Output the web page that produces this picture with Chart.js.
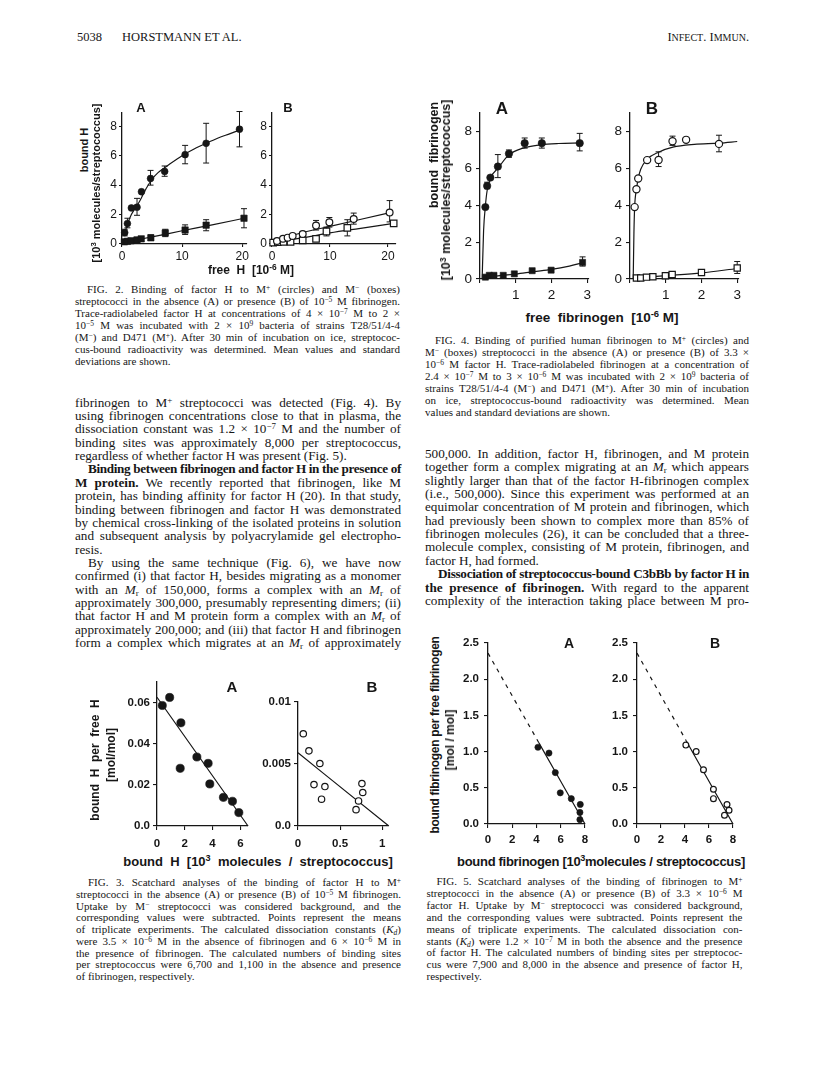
<!DOCTYPE html>
<html>
<head>
<meta charset="utf-8">
<script src="https://cdn.jsdelivr.net/npm/chart.js@4.4.0/dist/chart.umd.min.js"></script>
<style>
body{margin:0;background:#fff;width:816px;height:1078px;position:relative;overflow:hidden;font-family:"Liberation Serif","Times New Roman",serif;color:#161616}
canvas{position:absolute}
.ln{position:absolute;white-space:nowrap;height:16px;line-height:16px}
.ln sup{font-size:0.68em;vertical-align:0.45em;line-height:0}
.ln sub{font-size:0.68em;vertical-align:-0.25em;line-height:0}
.lab{position:absolute;white-space:nowrap;transform:translate(-50%,-50%);font-family:"Liberation Sans",Arial,sans-serif;font-weight:bold;color:#161616}
.lab sup{font-size:0.7em;vertical-align:0.5em;line-height:0}
.rot{transform:translate(-50%,-50%) rotate(-90deg)}
</style>
</head>
<body>
<script>
// ---------- Fig. 2 : bound H vs free H ----------
var f2XTicks = [0, 10, 20];
var f2YTicks = [0, 2, 4, 6, 8];
var f2aCircX = [0.45, 0.9, 1.56, 2.5, 3.24, 4.75, 7.1, 10.5, 14.0, 19.55];
var f2aCircY = [0.77, 1.39, 2.45, 2.5, 3.55, 4.45, 4.93, 6.07, 6.84, 7.8];
var f2aCircLo = [0.55, 1.1, 2.45, 1.95, 3.55, 4.0, 4.6, 5.45, 5.5, 6.6];
var f2aCircHi = [1.0, 1.75, 2.45, 3.1, 3.55, 5.0, 5.3, 6.7, 8.2, 9.0];
var f2aSqX = [0.4, 0.9, 1.5, 2.5, 3.2, 4.8, 7.2, 10.5, 14.0, 20.3];
var f2aSqY = [0.15, 0.18, 0.22, 0.28, 0.35, 0.42, 0.75, 0.95, 1.28, 1.75];
var f2aSqLo = [0.15, 0.18, 0.22, 0.28, 0.35, 0.25, 0.5, 0.65, 0.9, 1.1];
var f2aSqHi = [0.15, 0.18, 0.22, 0.28, 0.35, 0.62, 1.0, 1.3, 1.65, 2.4];
var f2aCircFitX = [0.3, 1, 1.5, 2, 2.5, 3, 4, 5, 6, 7, 8, 10, 12, 14, 16, 18, 19.8];
var f2aCircFitY = [0.55, 1.45, 1.95, 2.3, 2.6, 2.95, 3.75, 4.4, 4.85, 5.15, 5.45, 6.0, 6.45, 6.84, 7.2, 7.5, 7.78];
var f2aSqFitX = [0.3, 2, 5, 10, 15, 20.3];
var f2aSqFitY = [0.12, 0.25, 0.48, 0.9, 1.3, 1.75];
var f2bCircX = [0.86, 1.9, 2.7, 3.56, 5.3, 7.6, 9.9, 14.1, 20.3];
var f2bCircY = [0.2, 0.36, 0.43, 0.55, 0.68, 1.25, 1.48, 1.7, 2.14];
var f2bCircLo = [0.2, 0.36, 0.43, 0.55, 0.5, 0.95, 1.15, 1.35, 1.5];
var f2bCircHi = [0.2, 0.36, 0.43, 0.55, 0.85, 1.6, 1.8, 2.1, 2.95];
var f2bSqX = [0.2, 1.0, 2.0, 3.2, 5.3, 7.6, 9.4, 13.0, 21.0];
var f2bSqY = [0.1, 0.12, 0.15, 0.15, 0.25, 0.35, 0.85, 1.1, 1.4];
var f2bSqLo = [0.1, 0.12, 0.15, 0.15, 0.25, 0.35, 0.55, 0.55, 1.3];
var f2bSqHi = [0.1, 0.12, 0.15, 0.15, 0.25, 0.35, 1.15, 1.65, 1.5];
var f2bCircFitX = [0, 5, 10, 15, 20];
var f2bCircFitY = [0.25, 0.75, 1.2, 1.65, 2.1];
var f2bSqFitX = [0, 5, 10, 15, 21];
var f2bSqFitY = [0.1, 0.4, 0.75, 1.05, 1.4];

// ---------- Fig. 4 : bound fibrinogen vs free fibrinogen ----------
var f4XTicks = [0, 1, 2, 3];
var f4XLabels = ['', '1', '2', '3'];
var f4YTicks = [0, 2, 4, 6, 8];
var f4aCircX = [0.15, 0.2, 0.29, 0.5, 0.81, 1.25, 1.73, 2.79];
var f4aCircY = [3.9, 5.05, 5.5, 6.1, 6.8, 7.37, 7.37, 7.37];
var f4aCircLo = [3.9, 4.9, 5.5, 5.5, 6.6, 7.1, 7.1, 6.95];
var f4aCircHi = [3.9, 5.25, 5.5, 6.75, 7.0, 7.65, 7.65, 7.9];
var f4aSqX = [0.15, 0.26, 0.39, 0.65, 0.96, 1.46, 1.99, 2.87];
var f4aSqY = [0.1, 0.2, 0.2, 0.2, 0.28, 0.45, 0.48, 0.9];
var f4aSqLo = [0.1, 0.2, 0.2, 0.2, 0.28, 0.45, 0.48, 0.7];
var f4aSqHi = [0.1, 0.2, 0.2, 0.2, 0.28, 0.45, 0.48, 1.2];
var f4aCircFitX = [0.06, 0.1, 0.15, 0.2, 0.3, 0.5, 0.8, 1.2, 1.7, 2.2, 2.8];
var f4aCircFitY = [0, 2.6, 3.95, 4.8, 5.5, 6.0, 6.72, 7.1, 7.28, 7.35, 7.38];
var f4aSqFitX = [0.08, 0.5, 1, 1.5, 2, 2.5, 2.87];
var f4aSqFitY = [0.05, 0.17, 0.27, 0.4, 0.52, 0.7, 0.88];
var f4bCircX = [0.13, 0.18, 0.23, 0.48, 0.8, 1.19, 1.57, 2.49];
var f4bCircY = [3.9, 4.87, 5.45, 6.45, 6.46, 7.47, 7.55, 7.33];
var f4bCircLo = [3.9, 4.87, 5.45, 6.45, 6.1, 7.25, 7.55, 6.9];
var f4bCircHi = [3.9, 4.87, 5.45, 6.45, 6.9, 7.75, 7.55, 7.8];
var f4bSqX = [0.18, 0.3, 0.46, 0.64, 0.99, 1.18, 2.0, 3.0];
var f4bSqY = [0.05, 0.05, 0.1, 0.12, 0.18, 0.25, 0.35, 0.6];
var f4bSqLo = [0.05, 0.05, 0.1, 0.12, 0.18, 0.25, 0.35, 0.3];
var f4bSqHi = [0.05, 0.05, 0.1, 0.12, 0.18, 0.25, 0.35, 0.95];
var f4bCircFitX = [0.09, 0.11, 0.13, 0.18, 0.23, 0.3, 0.48, 0.8, 1.2, 1.8, 2.5, 3.0];
var f4bCircFitY = [0, 2.5, 3.9, 4.85, 5.45, 5.95, 6.5, 6.88, 7.15, 7.3, 7.37, 7.46];
var f4bSqFitX = [0.1, 1, 2, 3];
var f4bSqFitY = [0.05, 0.18, 0.33, 0.57];

// ---------- Fig. 3 : Scatchard, factor H ----------
var f3aXTicks = [0, 2, 4, 6];
var f3aYTicks = [0, 0.02, 0.04, 0.06];
var f3aYLabels = ['0.0', '0.02', '0.04', '0.06'];
var f3bXTicks = [0, 0.5, 1];
var f3bXLabels = ['0', '0.5', '1'];
var f3bYTicks = [0, 0.005, 0.01];
var f3bYLabels = ['0.0', '0.005', '0.01'];
var f3aX = [0.38, 0.91, 1.72, 1.67, 2.87, 3.68, 3.8, 4.78, 5.43, 5.89];
var f3aY = [0.0585, 0.0624, 0.0501, 0.028, 0.0335, 0.0304, 0.0204, 0.0139, 0.012, 0.0065];
var f3aFitX = [0, 6.55];
var f3aFitY = [0.0625, 0];
var f3bX = [0.063, 0.13, 0.26, 0.19, 0.32, 0.28, 0.76, 0.77, 0.72, 0.69];
var f3bY = [0.00744, 0.00606, 0.00504, 0.00334, 0.00318, 0.00216, 0.00342, 0.0027, 0.00202, 0.00132];
var f3bFitX = [0, 1.08];
var f3bFitY = [0.0059, 0];

// ---------- Fig. 5 : Scatchard, fibrinogen ----------
var f5XTicks = [0, 2, 4, 6, 8];
var f5YTicks = [0, 0.5, 1, 1.5, 2, 2.5];
var f5YLabels = ['0.0', '0.5', '1.0', '1.5', '2.0', '2.5'];
var f5aX = [4.12, 5.03, 5.55, 5.96, 6.87, 7.61, 7.58, 7.58];
var f5aY = [1.06, 0.98, 0.71, 0.43, 0.35, 0.27, 0.16, 0.06];
var f5aFitX = [4.2, 8.0];
var f5aFitY = [1.12, 0];
var f5aDashX = [0, 4.2];
var f5aDashY = [2.36, 1.12];
var f5bX = [4.07, 4.93, 5.54, 6.37, 6.37, 7.5, 7.67, 7.29];
var f5bY = [1.09, 1.0, 0.75, 0.48, 0.35, 0.27, 0.19, 0.12];
var f5bFitX = [4.1, 8.0];
var f5bFitY = [1.15, 0];
var f5bDashX = [0, 4.1];
var f5bDashY = [2.36, 1.15];

var INK = '#161616';
var SANS = '"Liberation Sans", Arial, sans-serif';

function pts(xs, ys) { return xs.map(function (x, i) { return { x: x, y: ys[i] }; }); }

function marks(xs, ys, shape, r, filled, lo, hi) {
  return { data: pts(xs, ys), showLine: false, pointStyle: shape, pointRadius: r,
    backgroundColor: filled ? INK : '#fff', borderColor: INK, borderWidth: filled ? 0.6 : 1.2,
    errLo: lo, errHi: hi, clip: false };
}
function curve(xs, ys, dash) {
  return { data: pts(xs, ys), showLine: true, pointRadius: 0, borderColor: INK, borderWidth: 1.2,
    borderDash: dash || [], cubicInterpolationMode: 'monotone', fill: false, clip: false };
}

// error bars drawn under the markers, through the chart scales
var errorBars = {
  id: 'errorBars',
  beforeDatasetsDraw: function (chart) {
    var ctx = chart.ctx, sx = chart.scales.x, sy = chart.scales.y;
    chart.data.datasets.forEach(function (ds) {
      if (!ds.errLo) return;
      ctx.save();
      ctx.strokeStyle = INK; ctx.lineWidth = 1;
      ds.data.forEach(function (p, i) {
        var lo = ds.errLo[i], hi = ds.errHi[i];
        if (lo === hi) return;
        var px = sx.getPixelForValue(p.x), pl = sy.getPixelForValue(lo), ph = sy.getPixelForValue(hi);
        ctx.beginPath();
        ctx.moveTo(px, pl); ctx.lineTo(px, ph);
        ctx.moveTo(px - 3, pl); ctx.lineTo(px + 3, pl);
        ctx.moveTo(px - 3, ph); ctx.lineTo(px + 3, ph);
        ctx.stroke();
      });
      ctx.restore();
    });
  }
};

function axis(horiz, min, max, ticks, labels, st, size) {
  return {
    type: 'linear', position: horiz ? 'bottom' : 'left', min: min, max: max,
    afterBuildTicks: function (s) { s.ticks = ticks.map(function (v) { return { value: v }; }); },
    afterFit: function (s) { if (horiz) s.height = size; else s.width = size; },
    ticks: { autoSkip: false, maxRotation: 0, padding: st.pad, color: INK,
      font: { family: SANS, size: st.fs, weight: st.fw },
      callback: function (v) { var k = ticks.indexOf(v); return labels ? labels[k] : String(v); } },
    grid: { drawOnChartArea: false, drawTicks: true, tickLength: st.tl, color: INK, lineWidth: 1.1 },
    border: { display: true, color: INK, width: 1.3 }
  };
}

function panel(g, xa, ya, datasets) {
  var padL = g.padL, padT = 12, padR = 16, padB = g.padB;
  var cv = document.createElement('canvas');
  var w = Math.round(g.right - g.left + padL + padR);
  var h = Math.round(g.bottom - g.top + padT + padB);
  cv.width = w; cv.height = h;
  cv.style.left = Math.round(g.left - padL) + 'px';
  cv.style.top = Math.round(g.top - padT) + 'px';
  document.body.appendChild(cv);
  new Chart(cv, {
    type: 'scatter',
    data: { datasets: datasets },
    options: {
      responsive: false, animation: false, devicePixelRatio: 1,
      layout: { padding: { left: 0, top: padT, right: padR, bottom: 0 } },
      plugins: { legend: { display: false }, tooltip: { enabled: false } },
      scales: {
        x: axis(true, xa.min, xa.max, xa.ticks, xa.labels, xa.st, padB),
        y: axis(false, ya.min, ya.max, ya.ticks, ya.labels, ya.st, padL)
      }
    },
    plugins: [errorBars]
  });
}

// ---------- page text ----------
function place(html, cls, x, y, css) {
  var d = document.createElement('div');
  d.className = cls; d.innerHTML = html;
  d.style.left = x + 'px'; d.style.top = y + 'px';
  if (css) d.style.cssText += css;
  document.body.appendChild(d);
  return d;
}
function lab(html, x, y, css) { return place(html, 'lab', x, y, css); }
function rlab(html, x, y, css) { return place(html, 'lab rot', x, y, css); }

// justified column text: one div per printed line
function column(lines, x, w, y0, dy, fs) {
  lines.forEach(function (L, i) {
    var ind = L.ind || 0;
    var d = place('<span>' + L.t + '</span>', 'ln', x + ind, y0 + dy * i - 8, 'font-size:' + fs + 'px');
    var span = d.firstChild;
    var nat = span.getBoundingClientRect().width;
    var target = w - ind;
    var spaces = (span.textContent.match(/ /g) || []).length;
    if (nat > target) {
      d.style.letterSpacing = ((target - nat) / span.textContent.length) + 'px';
    } else if (!L.last && spaces) {
      d.style.wordSpacing = ((target - nat) / spaces) + 'px';
    }
  });
}

place('5038', 'ln', 77, 29, 'font-size:12.5px');
place('HORSTMANN ET AL.', 'ln', 122, 29, 'font-size:12.5px');
place('I<span style="font-size:10px">NFECT</span>. I<span style="font-size:10px">MMUN</span>.', 'ln', 0, 29, 'font-size:12.5px;left:auto;right:' + (816 - 749) + 'px');

column([
  { t: 'fibrinogen to M<sup>+</sup> streptococci was detected (Fig. 4). By' },
  { t: 'using fibrinogen concentrations close to that in plasma, the' },
  { t: 'dissociation constant was 1.2 × 10<sup>−7</sup> M and the number of' },
  { t: 'binding sites was approximately 8,000 per streptococcus,' },
  { t: 'regardless of whether factor H was present (Fig. 5).', last: true },
  { t: '<b>Binding between fibrinogen and factor H in the presence of</b>', ind: 13 },
  { t: '<b>M protein.</b> We recently reported that fibrinogen, like M' },
  { t: 'protein, has binding affinity for factor H (20). In that study,' },
  { t: 'binding between fibrinogen and factor H was demonstrated' },
  { t: 'by chemical cross-linking of the isolated proteins in solution' },
  { t: 'and subsequent analysis by polyacrylamide gel electropho-' },
  { t: 'resis.', last: true },
  { t: 'By using the same technique (Fig. 6), we have now', ind: 13 },
  { t: 'confirmed (i) that factor H, besides migrating as a monomer' },
  { t: 'with an <i>M</i><sub>r</sub> of 150,000, forms a complex with an <i>M</i><sub>r</sub> of' },
  { t: 'approximately 300,000, presumably representing dimers; (ii)' },
  { t: 'that factor H and M protein form a complex with an <i>M</i><sub>r</sub> of' },
  { t: 'approximately 200,000; and (iii) that factor H and fibrinogen' },
  { t: 'form a complex which migrates at an <i>M</i><sub>r</sub> of approximately' }
], 75, 326, 402.7, 13.35, 13.2);

column([
  { t: '500,000. In addition, factor H, fibrinogen, and M protein' },
  { t: 'together form a complex migrating at an <i>M</i><sub>r</sub> which appears' },
  { t: 'slightly larger than that of the factor H-fibrinogen complex' },
  { t: '(i.e., 500,000). Since this experiment was performed at an' },
  { t: 'equimolar concentration of M protein and fibrinogen, which' },
  { t: 'had previously been shown to complex more than 85% of' },
  { t: 'fibrinogen molecules (26), it can be concluded that a three-' },
  { t: 'molecule complex, consisting of M protein, fibrinogen, and' },
  { t: 'factor H, had formed.', last: true },
  { t: '<b>Dissociation of streptococcus-bound C3bBb by factor H in</b>', ind: 13 },
  { t: '<b>the presence of fibrinogen.</b> With regard to the apparent' },
  { t: 'complexity of the interaction taking place between M pro-' }
], 425, 324, 454, 13.35, 13.2);

column([
  { t: 'FIG. 2. Binding of factor H to M<sup>+</sup> (circles) and M<sup>−</sup> (boxes)', ind: 12 },
  { t: 'streptococci in the absence (A) or presence (B) of 10<sup>−5</sup> M fibrinogen.' },
  { t: 'Trace-radiolabeled factor H at concentrations of 4 × 10<sup>−7</sup> M to 2 ×' },
  { t: '10<sup>−5</sup> M was incubated with 2 × 10<sup>9</sup> bacteria of strains T28/51/4-4' },
  { t: '(M<sup>−</sup>) and D471 (M<sup>+</sup>). After 30 min of incubation on ice, streptococ-' },
  { t: 'cus-bound radioactivity was determined. Mean values and standard' },
  { t: 'deviations are shown.', last: true }
], 75, 325, 289.3, 11.95, 11);

column([
  { t: 'FIG. 4. Binding of purified human fibrinogen to M<sup>+</sup> (circles) and', ind: 10 },
  { t: 'M<sup>−</sup> (boxes) streptococci in the absence (A) or presence (B) of 3.3 ×' },
  { t: '10<sup>−6</sup> M factor H. Trace-radiolabeled fibrinogen at a concentration of' },
  { t: '2.4 × 10<sup>−7</sup> M to 3 × 10<sup>−6</sup> M was incubated with 2 × 10<sup>9</sup> bacteria of' },
  { t: 'strains T28/51/4-4 (M<sup>−</sup>) and D471 (M<sup>+</sup>). After 30 min of incubation' },
  { t: 'on ice, streptococcus-bound radioactivity was determined. Mean' },
  { t: 'values and standard deviations are shown.', last: true }
], 425, 324, 340, 12.05, 11);

column([
  { t: 'FIG. 3. Scatchard analyses of the binding of factor H to M<sup>+</sup>', ind: 12 },
  { t: 'streptococci in the absence (A) or presence (B) of 10<sup>−5</sup> M fibrinogen.' },
  { t: 'Uptake by M<sup>−</sup> streptococci was considered background, and the' },
  { t: 'corresponding values were subtracted. Points represent the means' },
  { t: 'of triplicate experiments. The calculated dissociation constants (<i>K<sub>d</sub></i>)' },
  { t: 'were 3.5 × 10<sup>−6</sup> M in the absence of fibrinogen and 6 × 10<sup>−6</sup> M in' },
  { t: 'the presence of fibrinogen. The calculated numbers of binding sites' },
  { t: 'per streptococcus were 6,700 and 1,100 in the absence and presence' },
  { t: 'of fibrinogen, respectively.', last: true }
], 76, 325, 882.3, 11.7, 11);

column([
  { t: 'FIG. 5. Scatchard analyses of the binding of fibrinogen to M<sup>+</sup>', ind: 10 },
  { t: 'streptococci in the absence (A) or presence (B) of 3.3 × 10<sup>−6</sup> M' },
  { t: 'factor H. Uptake by M<sup>−</sup> streptococci was considered background,' },
  { t: 'and the corresponding values were subtracted. Points represent the' },
  { t: 'means of triplicate experiments. The calculated dissociation con-' },
  { t: 'stants (<i>K<sub>d</sub></i>) were 1.2 × 10<sup>−7</sup> M in both the absence and the presence' },
  { t: 'of factor H. The calculated numbers of binding sites per streptococ-' },
  { t: 'cus were 7,900 and 8,000 in the absence and presence of factor H,' },
  { t: 'respectively.', last: true }
], 426.5, 316, 881, 11.9, 11);

// ---------- Fig. 2 ----------
var st2 = { fs: 12, fw: 'normal', pad: 2, tl: 3 };
panel({ left: 122, right: 246.8, top: 112.5, bottom: 243, padL: 32, padB: 22 },
  { min: 0, max: 20.8, ticks: f2XTicks, st: st2 }, { min: 0, max: 8.9, ticks: f2YTicks, st: st2 }, [
    marks(f2aCircX, f2aCircY, 'circle', 3.4, true, f2aCircLo, f2aCircHi),
    marks(f2aSqX, f2aSqY, 'rect', 4.5, true, f2aSqLo, f2aSqHi),
    curve(f2aCircFitX, f2aCircFitY), curve(f2aSqFitX, f2aSqFitY)]);
panel({ left: 272, right: 396.1, top: 112.5, bottom: 243, padL: 32, padB: 22 },
  { min: 0, max: 21.4, ticks: f2XTicks, st: st2 }, { min: 0, max: 8.9, ticks: f2YTicks, st: st2 }, [
    marks(f2bCircX, f2bCircY, 'circle', 3.4, false, f2bCircLo, f2bCircHi),
    marks(f2bSqX, f2bSqY, 'rect', 4.6, false, f2bSqLo, f2bSqHi),
    curve(f2bCircFitX, f2bCircFitY), curve(f2bSqFitX, f2bSqFitY)]);
lab('A', 141, 107, 'font-size:13px');
lab('B', 288, 107, 'font-size:13px');
rlab('bound H', 84, 150, 'font-size:11px');
rlab('[10<sup>3</sup> molecules/streptococcus]', 96, 183, 'font-size:11px');
lab('free&nbsp;&nbsp;H&nbsp;&nbsp;[10<sup>-6</sup> M]', 251, 270, 'font-size:12px');

// ---------- Fig. 4 ----------
var st4 = { fs: 13.5, fw: 'normal', pad: 4, tl: 4 };
panel({ left: 480.3, right: 589.2, top: 112.6, bottom: 278.3, padL: 34, padB: 26 },
  { min: 0, max: 3.05, ticks: f4XTicks, labels: f4XLabels, st: st4 }, { min: 0, max: 9.0, ticks: f4YTicks, st: st4 }, [
    marks(f4aCircX, f4aCircY, 'circle', 3.7, true, f4aCircLo, f4aCircHi),
    marks(f4aSqX, f4aSqY, 'rect', 4.3, true, f4aSqLo, f4aSqHi),
    curve(f4aCircFitX, f4aCircFitY), curve(f4aSqFitX, f4aSqFitY)]);
panel({ left: 629.9, right: 739.1, top: 112.6, bottom: 278.3, padL: 34, padB: 26 },
  { min: 0, max: 3.05, ticks: f4XTicks, labels: f4XLabels, st: st4 }, { min: 0, max: 9.0, ticks: f4YTicks, st: st4 }, [
    marks(f4bCircX, f4bCircY, 'circle', 3.6, false, f4bCircLo, f4bCircHi),
    marks(f4bSqX, f4bSqY, 'rect', 4.4, false, f4bSqLo, f4bSqHi),
    curve(f4bCircFitX, f4bCircFitY), curve(f4bSqFitX, f4bSqFitY)]);
lab('A', 502, 109, 'font-size:17px');
lab('B', 652, 109, 'font-size:17px');
rlab('bound&nbsp;&nbsp;fibrinogen', 434, 155, 'font-size:12.5px');
rlab('[10<sup>3</sup> molecules/streptococcus]', 446, 190, 'font-size:12.5px');
lab('free&nbsp;&nbsp;fibrinogen&nbsp;&nbsp;[10<sup>-6</sup> M]', 602, 317, 'font-size:13.5px');

// ---------- Fig. 3 ----------
var st3 = { fs: 11.5, fw: 'bold', pad: 7, tl: 4 };
var st3y = { fs: 11.5, fw: 'bold', pad: 3, tl: 4 };
panel({ left: 156.7, right: 247.9, top: 681.6, bottom: 825.7, padL: 40, padB: 26 },
  { min: 0, max: 6.55, ticks: f3aXTicks, st: st3 }, { min: 0, max: 0.0699, ticks: f3aYTicks, labels: f3aYLabels, st: st3y }, [
    marks(f3aX, f3aY, 'circle', 4.1, true),
    curve(f3aFitX, f3aFitY)]);
panel({ left: 297.7, right: 387.6, top: 702, bottom: 825.7, padL: 44, padB: 26 },
  { min: 0, max: 1.07, ticks: f3bXTicks, labels: f3bXLabels, st: st3 }, { min: 0, max: 0.01, ticks: f3bYTicks, labels: f3bYLabels, st: st3y }, [
    marks(f3bX, f3bY, 'circle', 3.2, false),
    curve(f3bFitX, f3bFitY)]);
lab('A', 232, 686, 'font-size:15px');
lab('B', 372, 686, 'font-size:15px');
rlab('bound&nbsp;&nbsp;H&nbsp;&nbsp;per&nbsp;&nbsp;free&nbsp;&nbsp;H', 95, 760, 'font-size:12px');
rlab('[mol/mol]', 111, 755, 'font-size:12px');
lab('bound&nbsp;&nbsp;H&nbsp;&nbsp;[10<sup>3</sup>&nbsp;&nbsp;molecules&nbsp;&nbsp;/&nbsp;&nbsp;streptococcus]', 258, 861, 'font-size:13px');

// ---------- Fig. 5 ----------
var st5 = { fs: 11.5, fw: 'bold', pad: 5, tl: 4 };
panel({ left: 488.3, right: 585.3, top: 642.7, bottom: 823.7, padL: 36, padB: 26 },
  { min: 0, max: 8, ticks: f5XTicks, st: st5 }, { min: 0, max: 2.5, ticks: f5YTicks, labels: f5YLabels, st: st5 }, [
    marks(f5aX, f5aY, 'circle', 3.1, true),
    curve(f5aFitX, f5aFitY), curve(f5aDashX, f5aDashY, [4, 5])]);
panel({ left: 637, right: 733.3, top: 642.7, bottom: 823.7, padL: 36, padB: 26 },
  { min: 0, max: 8, ticks: f5XTicks, st: st5 }, { min: 0, max: 2.5, ticks: f5YTicks, labels: f5YLabels, st: st5 }, [
    marks(f5bX, f5bY, 'circle', 2.9, false),
    curve(f5bFitX, f5bFitY), curve(f5bDashX, f5bDashY, [4, 5])]);
lab('A', 569, 643, 'font-size:14px');
lab('B', 715, 643, 'font-size:14px');
rlab('bound fibrinogen per free fibrinogen', 435, 735, 'font-size:12px;letter-spacing:-0.3px');
rlab('[mol / mol]', 450, 740, 'font-size:12px');
lab('bound fibrinogen [10<sup>3</sup>molecules / streptococcus]', 601, 861, 'font-size:13px;letter-spacing:-0.3px');
</script>
</body>
</html>
